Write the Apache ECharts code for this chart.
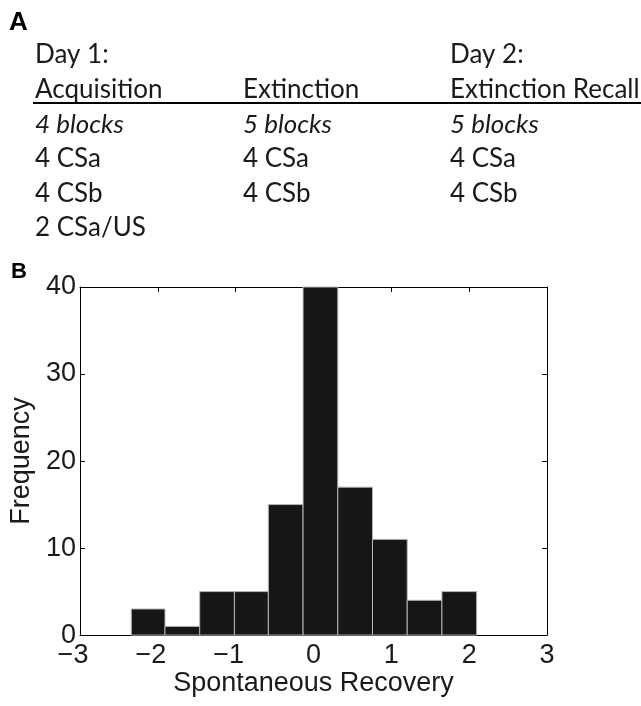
<!DOCTYPE html>
<html><head><meta charset="utf-8">
<script src="https://cdn.jsdelivr.net/npm/echarts@6/dist/echarts.min.js"></script>
<style>html,body{margin:0;padding:0;background:#fff}#c{width:641px;height:706px}</style>
</head><body><div id="c"></div>
<script>
// Histogram data (panel B)
const binEdges = [-2.341, -1.908, -1.462, -1.016, -0.580, -0.134, 0.312, 0.758, 1.204, 1.650, 2.096];
const counts = [3, 1, 5, 5, 15, 40, 17, 11, 4, 5];
const xTicks = [-3, -2, -1, 0, 1, 2, 3];
const yTicks = [0, 10, 20, 30, 40];
const xTitle = 'Spontaneous Recovery';
const yTitle = 'Frequency';
const panelLabels = ['A', 'B'];
// Protocol table (panel A)
const col1 = ['Day 1:', 'Acquisition', '4 blocks', '4 CSa', '4 CSb', '2 CSa/US'];
const col2 = ['', 'Extinction', '5 blocks', '4 CSa', '4 CSb', ''];
const col3 = ['Day 2:', 'Extinction Recall', '5 blocks', '4 CSa', '4 CSb', ''];
const italicRow = 2;

const colX = [35, 243, 450];
const rowY = [55, 90, 124.5, 159, 193.5, 227.5];
const tFont = 'Lato, "Open Sans", sans-serif';
const tSize = 26;
const axFont = '"Liberation Sans", Arial, Helvetica, sans-serif';

const graphic = [];
[col1, col2, col3].forEach((col, ci) => {
  col.forEach((t, ri) => {
    if (!t) return;
    graphic.push({type:'text', x:colX[ci], y:rowY[ri], style:{text:t, fontFamily:tFont, fontSize:tSize, fontStyle: ri === italicRow ? 'italic' : 'normal', fill:'#1a1a1a', align:'left', verticalAlign:'middle'}});
  });
});
graphic.push({type:'line', shape:{x1:33, y1:103, x2:641, y2:103}, style:{stroke:'#000', lineWidth:2}});

const histData = counts.map((c, i) => [binEdges[i], binEdges[i + 1], c]);
const minus = v => String(v).replace('-', '\u2212');
const tickSize = 27;

const chart = echarts.init(document.getElementById('c'), null, {renderer:'canvas'});
chart.setOption({
  backgroundColor:'#fff',
  animation:false,
  title:[
    {text:panelLabels[0], left:9, top:10, padding:0, textStyle:{fontFamily:axFont, fontWeight:'bold', fontSize:26, color:'#000'}},
    {text:panelLabels[1], left:11, top:261, padding:0, textStyle:{fontFamily:axFont, fontWeight:'bold', fontSize:22, color:'#000'}}
  ],
  graphic: graphic,
  grid:{left:76, top:287, width:471, height:361, show:false, containLabel:false},
  xAxis:[{
    type:'value', min:-3, max:3, interval:1, position:'bottom',
    name:xTitle, nameLocation:'middle', nameGap:35,
    nameTextStyle:{fontFamily:axFont, fontSize:27, color:'#1a1a1a'},
    axisLine:{show:true, onZero:false, lineStyle:{color:'#000', width:1}},
    axisTick:{show:true, inside:true, length:5, lineStyle:{color:'#000'}},
    axisLabel:{margin:7, fontFamily:axFont, fontSize:tickSize, color:'#1a1a1a',
      formatter: v => v < 0 ? '{n|' + minus(v) + '}' : String(v),
      rich:{n:{fontFamily:axFont, fontSize:tickSize, color:'#1a1a1a', padding:[0,14,0,0]}}},
    splitLine:{show:false}
  },{
    type:'value', min:-3, max:3, interval:1, position:'top',
    axisLine:{show:true, onZero:false, lineStyle:{color:'#000', width:1}},
    axisTick:{show:true, inside:true, length:5, lineStyle:{color:'#000'}},
    axisLabel:{show:false}, splitLine:{show:false}
  }],
  yAxis:[{
    type:'value', min:0, max:40, interval:10, position:'left',
    name:yTitle, nameLocation:'middle', nameGap:45, nameRotate:90,
    nameTextStyle:{fontFamily:axFont, fontSize:27, color:'#1a1a1a'},
    axisLine:{show:true, onZero:false, lineStyle:{color:'#000', width:1}},
    axisTick:{show:true, inside:true, length:5, lineStyle:{color:'#000'}},
    axisLabel:{margin:4, fontFamily:axFont, fontSize:tickSize, color:'#1a1a1a'},
    splitLine:{show:false}
  },{
    type:'value', min:0, max:40, interval:10, position:'right',
    axisLine:{show:true, onZero:false, lineStyle:{color:'#000', width:1}},
    axisTick:{show:true, inside:true, length:5, lineStyle:{color:'#000'}},
    axisLabel:{show:false}, splitLine:{show:false}
  }],
  series:[{
    type:'custom',
    xAxisIndex:0, yAxisIndex:0,
    data: histData,
    encode:{x:[0,1], y:2},
    renderItem:(params, api) => {
      const p0 = api.coord([api.value(0), api.value(2)]);
      const p1 = api.coord([api.value(1), 0]);
      return {type:'rect', shape:{x:p0[0], y:p0[1], width:p1[0]-p0[0], height:p1[1]-p0[1]},
        style:{fill:'#161616', stroke:'#b4b4b4', lineWidth:1}};
    }
  }]
});
</script>
</body></html>
